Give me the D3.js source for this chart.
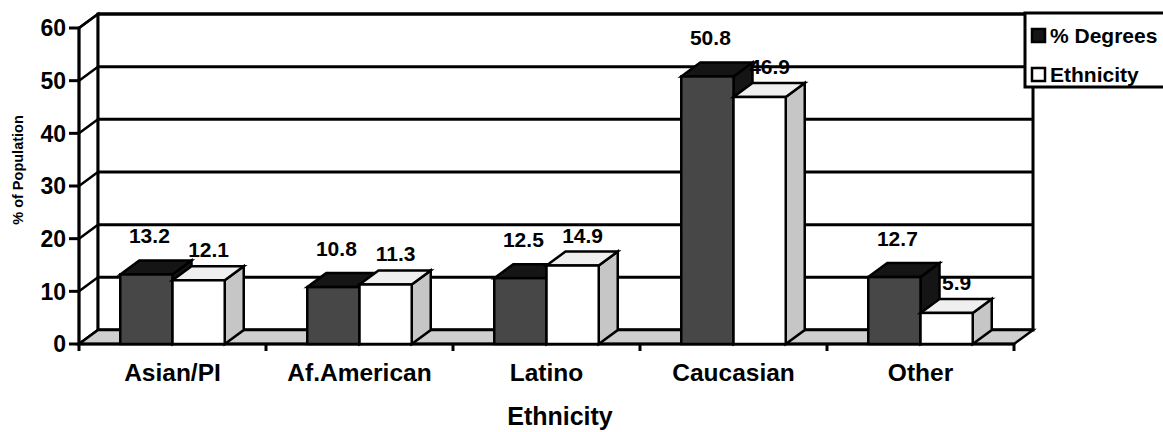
<!DOCTYPE html>
<html>
<head>
<meta charset="utf-8">
<script src="https://cdn.jsdelivr.net/npm/d3@7"></script>
<style>
  body { margin: 0; background: #fff; }
  svg text { font-family: "Liberation Sans", Arial, sans-serif; font-weight: bold; }
</style>
</head>
<body>
<div id="chart"></div>
<script>
// chart data
const categories = ["Asian/PI", "Af.American", "Latino", "Caucasian", "Other"];
const seriesNames = ["% Degrees", "Ethnicity"];
const degrees = [13.2, 10.8, 12.5, 50.8, 12.7];
const ethnicity = [12.1, 11.3, 14.9, 46.9, 5.9];
const yTicks = [0, 10, 20, 30, 40, 50, 60];

const width = 1163, height = 432;
const dx = 19, dy = 14; // 3d depth offset

const svg = d3.select("#chart").append("svg")
    .attr("width", width)
    .attr("height", height);

let x = d3.scaleBand().domain(categories).range([79, 1014]);
let xs = d3.scaleBand().domain(seriesNames).range([0, x.bandwidth()])
    .paddingInner(0).paddingOuter(0.79);
let y = d3.scaleLinear().domain([0, 60]).range([344, 28]);

const x0 = x.range()[0], x1 = x.range()[1];
const yTop = y(60), yBot = y(0);

function pts(a) { return a.map(p => p.join(",")).join(" "); }

// side wall
svg.append("polygon")
    .attr("points", pts([[x0, yBot], [x0, yTop], [x0 + dx, yTop - dy], [x0 + dx, yBot - dy]]))
    .attr("fill", "#fff").attr("stroke", "#000").attr("stroke-width", 2.5);

// back wall
svg.append("rect")
    .attr("x", x0 + dx).attr("y", yTop - dy)
    .attr("width", x1 - x0).attr("height", yBot - yTop)
    .attr("fill", "#fff").attr("stroke", "#000").attr("stroke-width", 3);

// gridlines
yTicks.forEach(function(t) {
  svg.append("line")
      .attr("x1", x0 + dx).attr("x2", x1 + dx)
      .attr("y1", y(t) - dy).attr("y2", y(t) - dy)
      .attr("stroke", "#000").attr("stroke-width", 3);
  svg.append("line")
      .attr("x1", x0).attr("x2", x0 + dx)
      .attr("y1", y(t)).attr("y2", y(t) - dy)
      .attr("stroke", "#000").attr("stroke-width", 2.5);
});

// floor
svg.append("polygon")
    .attr("points", pts([[x0, yBot], [x1, yBot], [x1 + dx, yBot - dy], [x0 + dx, yBot - dy]]))
    .attr("fill", "#cfcfcf").attr("stroke", "#000").attr("stroke-width", 2.5);

// y axis line + ticks
svg.append("line")
    .attr("x1", x0).attr("x2", x0).attr("y1", yTop).attr("y2", yBot)
    .attr("stroke", "#000").attr("stroke-width", 3);

svg.selectAll(".ytick")
    .data(yTicks)
    .enter()
    .append("line")
    .attr("x1", x0 - 10).attr("x2", x0)
    .attr("y1", d => y(d)).attr("y2", d => y(d))
    .attr("stroke", "#000").attr("stroke-width", 3);

svg.selectAll(".ylabel")
    .data(yTicks)
    .enter()
    .append("text")
    .attr("x", x0 - 13)
    .attr("y", d => y(d))
    .attr("dy", "0.36em")
    .attr("text-anchor", "end")
    .attr("font-size", 23)
    .text(d => d);

// x axis line + ticks
svg.append("line")
    .attr("x1", x0).attr("x2", x1).attr("y1", yBot).attr("y2", yBot)
    .attr("stroke", "#000").attr("stroke-width", 3);

svg.selectAll(".xtick")
    .data(categories.concat([null]))
    .enter()
    .append("line")
    .attr("x1", (d, i) => x0 + i * x.step())
    .attr("x2", (d, i) => x0 + i * x.step())
    .attr("y1", yBot).attr("y2", yBot + 7)
    .attr("stroke", "#000").attr("stroke-width", 3);

svg.selectAll(".xlabel")
    .data(categories)
    .enter()
    .append("text")
    .attr("x", d => x(d) + x.bandwidth() / 2)
    .attr("y", 381)
    .attr("text-anchor", "middle")
    .attr("font-size", 24.5)
    .text(d => d);

// bars
const colors = {
  "% Degrees": {front: "#474747", top: "#151515", side: "#151515"},
  "Ethnicity": {front: "#ffffff", top: "#efefef", side: "#c6c6c6"}
};
const labelOff = {
  "% Degrees": {x: 3, y: 17},
  "Ethnicity": {x: 10, y: 9}
};

categories.forEach(function(c, i) {
  const vals = [degrees[i], ethnicity[i]];
  seriesNames.forEach(function(s, j) {
    const v = vals[j];
    const bx = x(c) + xs(s), bw = xs.bandwidth();
    const yt = y(v);
    const col = colors[s];
    const g = svg.append("g");
    // side
    g.append("polygon")
        .attr("points", pts([[bx + bw, yBot], [bx + bw, yt], [bx + bw + dx, yt - dy], [bx + bw + dx, yBot - dy]]))
        .attr("fill", col.side).attr("stroke", "#000").attr("stroke-width", 2.5);
    // top
    g.append("polygon")
        .attr("points", pts([[bx, yt], [bx + bw, yt], [bx + bw + dx, yt - dy], [bx + dx, yt - dy]]))
        .attr("fill", col.top).attr("stroke", "#000").attr("stroke-width", 2.5);
    // front
    g.append("rect")
        .attr("x", bx).attr("y", yt).attr("width", bw).attr("height", yBot - yt)
        .attr("fill", col.front).attr("stroke", "#000").attr("stroke-width", 2.5);
  });
});

// value labels
categories.forEach(function(c, i) {
  const vals = [degrees[i], ethnicity[i]];
  seriesNames.forEach(function(s, j) {
    const v = vals[j];
    svg.append("text")
        .attr("x", x(c) + xs(s) + xs.bandwidth() / 2 + labelOff[s].x)
        .attr("y", y(v) - dy - labelOff[s].y)
        .attr("text-anchor", "middle")
        .attr("font-size", 21)
        .text(v);
  });
});

// axis titles
svg.append("text")
    .attr("transform", "translate(23,170) rotate(-90)")
    .attr("text-anchor", "middle")
    .attr("font-size", 14.5)
    .text("% of Population");

svg.append("text")
    .attr("x", 560)
    .attr("y", 425)
    .attr("text-anchor", "middle")
    .attr("font-size", 25)
    .text("Ethnicity");

// legend
const legend = svg.append("g").attr("transform", "translate(1025,13)");
legend.append("rect")
    .attr("x", 0).attr("y", 0).attr("width", 150).attr("height", 74)
    .attr("fill", "#fff").attr("stroke", "#000").attr("stroke-width", 3);

legend.selectAll(".lg")
    .data(seriesNames)
    .enter()
    .append("rect")
    .attr("x", 7).attr("y", (d, i) => 16 + i * 39)
    .attr("width", 13).attr("height", 13)
    .attr("fill", d => d === "% Degrees" ? "#151515" : "#fff")
    .attr("stroke", "#000").attr("stroke-width", 2.5);

legend.selectAll(".lt")
    .data(seriesNames)
    .enter()
    .append("text")
    .attr("x", 25).attr("y", (d, i) => 30 + i * 39)
    .attr("font-size", 21)
    .text(d => d);
</script>
</body>
</html>
